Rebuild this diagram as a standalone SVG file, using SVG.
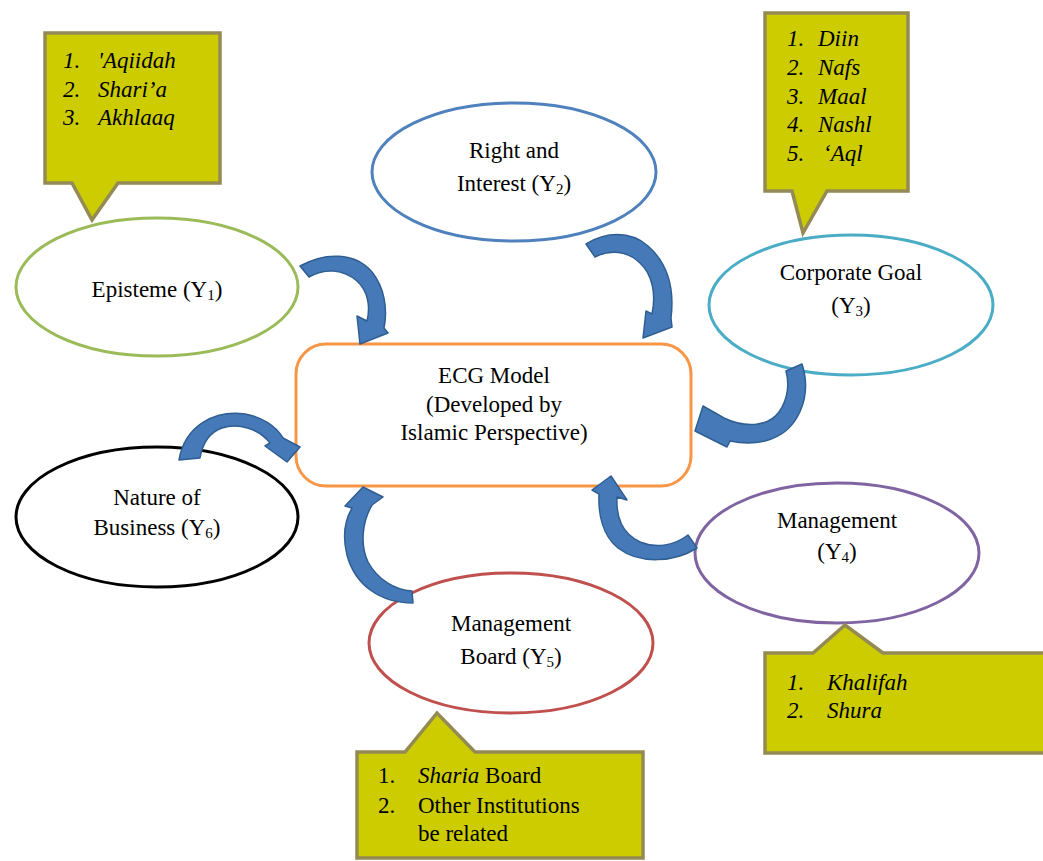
<svg xmlns="http://www.w3.org/2000/svg" width="1043" height="861" viewBox="0 0 1043 861">
<style>
.bg{fill:#ffffff}
.node{fill:#ffffff;stroke-width:3}
.lbl{font-family:'Liberation Serif','Times New Roman',serif;font-size:23px;fill:#000;text-anchor:middle}
.cot{font-family:'Liberation Serif','Times New Roman',serif;font-size:23px;fill:#000;text-anchor:start}
.it{font-style:italic}
.sub{font-size:15px}
.call{fill:#CCCC00;stroke:#948A54;stroke-width:3.5;stroke-linejoin:miter}
.arr{fill:#4679B7;stroke:#2F5E92;stroke-width:1.5;stroke-linejoin:round}
</style>
<rect class="bg" x="0" y="0" width="1043" height="861"/>
<g id="node-episteme">
<ellipse class="node" cx="157" cy="287" rx="141" ry="69" stroke="#9BBB59"/>
<text class="lbl" x="157" y="297">Episteme (Y<tspan class="sub" dy="3">1</tspan><tspan dy="-3">)</tspan></text>
</g>
<g id="node-right">
<ellipse class="node" cx="514" cy="172" rx="142" ry="69" stroke="#4F81BD"/>
<text class="lbl" x="514" y="158">Right and</text>
<text class="lbl" x="514" y="191">Interest (Y<tspan class="sub" dy="3">2</tspan><tspan dy="-3">)</tspan></text>
</g>
<g id="node-corporate">
<ellipse class="node" cx="851" cy="305" rx="142" ry="70" stroke="#4BACC6"/>
<text class="lbl" x="851" y="280">Corporate Goal</text>
<text class="lbl" x="851" y="313">(Y<tspan class="sub" dy="3">3</tspan><tspan dy="-3">)</tspan></text>
</g>
<g id="node-nature">
<ellipse class="node" cx="157" cy="517" rx="141" ry="70" stroke="#000000"/>
<text class="lbl" x="157" y="505">Nature of</text>
<text class="lbl" x="157" y="535">Business (Y<tspan class="sub" dy="3">6</tspan><tspan dy="-3">)</tspan></text>
</g>
<g id="node-board">
<ellipse class="node" cx="511" cy="643" rx="142" ry="70" stroke="#C0504D"/>
<text class="lbl" x="511" y="631">Management</text>
<text class="lbl" x="511" y="664">Board (Y<tspan class="sub" dy="3">5</tspan><tspan dy="-3">)</tspan></text>
</g>
<g id="node-management">
<ellipse class="node" cx="837" cy="553" rx="142" ry="70" stroke="#8064A2"/>
<text class="lbl" x="837" y="528">Management</text>
<text class="lbl" x="837" y="559">(Y<tspan class="sub" dy="3">4</tspan><tspan dy="-3">)</tspan></text>
</g>
<g id="node-ecg">
<rect class="node" x="296" y="344" width="395" height="142" rx="30" ry="30" stroke="#F79646"/>
<text class="lbl" x="494" y="383">ECG Model</text>
<text class="lbl" x="494" y="412">(Developed by</text>
<text class="lbl" x="494" y="440">Islamic Perspective)</text>
</g>

<g id="callout-episteme">
<path class="call" d="M45,33 H220 V183 H118 L92,220 L72,183 H45 Z"/>
<text class="cot it" x="63" y="68">1.</text>
<text class="cot it" x="98" y="68">'Aqiidah</text>
<text class="cot it" x="63" y="97">2.</text>
<text class="cot it" x="98" y="97">Shari’a</text>
<text class="cot it" x="63" y="125">3.</text>
<text class="cot it" x="98" y="125">Akhlaaq</text>
</g>
<g id="callout-corporate">
<path class="call" d="M765,13 H908 V191 H827 L803,233 L792,191 H765 Z"/>
<text class="cot it" x="787" y="46">1.</text>
<text class="cot it" x="818" y="46">Diin</text>
<text class="cot it" x="787" y="75">2.</text>
<text class="cot it" x="818" y="75">Nafs</text>
<text class="cot it" x="787" y="104">3.</text>
<text class="cot it" x="818" y="104">Maal</text>
<text class="cot it" x="787" y="132">4.</text>
<text class="cot it" x="818" y="132">Nashl</text>
<text class="cot it" x="787" y="161">5.</text>
<text class="cot it" x="823" y="161">‘Aql</text>
</g>
<g id="callout-management">
<path class="call" d="M765,653 H813 L845,625 L883,653 H1050 V753 H765 Z"/>
<text class="cot it" x="787" y="690">1.</text>
<text class="cot it" x="827" y="690">Khalifah</text>
<text class="cot it" x="787" y="718">2.</text>
<text class="cot it" x="827" y="718">Shura</text>
</g>
<g id="callout-board">
<path class="call" d="M357,752 H405 L437,713 L475,752 H643 V858 H357 Z"/>
<text class="cot" x="378" y="783">1.</text>
<text class="cot" x="418" y="783"><tspan class="it">Sharia</tspan> Board</text>
<text class="cot" x="378" y="813">2.</text>
<text class="cot" x="418" y="813">Other Institutions</text>
<text class="cot" x="418" y="841">be related</text>
</g>
<g id="connectors">
<path class="arr" d="M300,266 C325,252 355,252 372,272 C384,287 388,308 384,328 L388,333 L360,344 L357,316 L367,321 C371,305 367,290 357,281 C343,269 325,268 309,277 Z"/>
<path class="arr" d="M586,244 C605,232 630,230 648,246 C665,261 675,285 671,318 L672,327 L643,338 L646,311 L652,314 C656,295 653,275 640,263 C628,251 610,249 595,257 Z"/>
<path class="arr" d="M802,364 C812,395 800,432 765,441 C752,444 740,443 730,441 L727,447 L695,431 L703,406 L724,418 C745,428 768,427 779,412 C789,398 789,382 786,371 Z"/>
<path class="arr" d="M179,460 C185,425 215,410 245,414 C262,417 276,426 283,438 L300,447 L287,462 L265,446 L270,443 C258,428 238,423 222,428 C208,433 202,446 200,458 Z"/>
<path class="arr" d="M413,603 C380,603 355,585 347,555 C342,535 345,520 352,508 L345,506 L363,487 L383,497 L372,505 C362,522 360,545 368,562 C378,580 395,590 412,591 Z"/>
<path class="arr" d="M697,548 C675,562 640,565 618,548 C603,536 598,515 599,494 L592,490 L611,476 L627,500 L617,497 C616,518 622,533 640,542 C657,549 675,545 688,535 Z"/>
</g>
</svg>
